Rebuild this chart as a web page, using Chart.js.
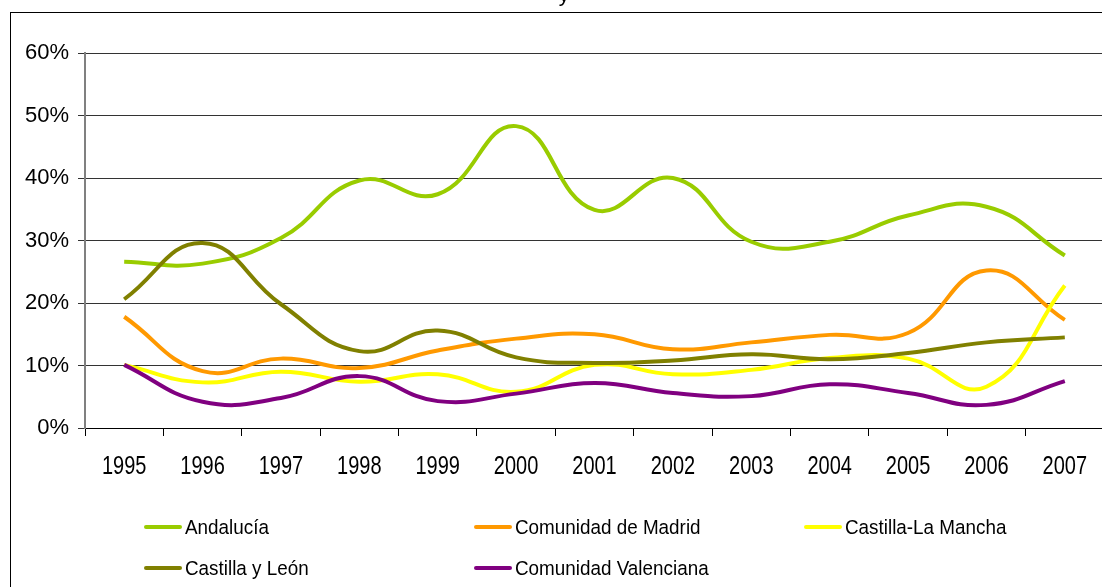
<!DOCTYPE html>
<html>
<head>
<meta charset="utf-8">
<script src="https://cdn.jsdelivr.net/npm/chart.js@4"></script>
<style>
  html, body { margin: 0; padding: 0; background: #fff; overflow: hidden; }
  body { width: 1102px; height: 587px; position: relative; }
  .frame { position: absolute; left: 10px; top: 12px; width: 1200px; height: 700px; border: 1.5px solid #000; }
  #wrap { position: absolute; left: 0; top: 0; width: 1104px; height: 587px; }
  .legend { position: absolute; left: 0; top: 0; font-family: "Liberation Sans Narrow", "Arial Narrow", "Liberation Sans", sans-serif; font-size: 20.5px; color: #000; }
  .item { position: absolute; display: flex; align-items: center; white-space: nowrap; }
  .item span.mark { display: inline-block; width: 38px; height: 4.5px; border-radius: 2px; margin-right: 3px; }
  .item span.txt { display: inline-block; transform: scaleX(0.92); transform-origin: left center; }
</style>
</head>
<body>
<div class="frame"></div>
<div id="wrap"><canvas id="chart" width="1104" height="587"></canvas></div>
<div class="legend" id="legend"></div>
<script>
const years = ['1995', '1996', '1997', '1998', '1999', '2000', '2001', '2002', '2003', '2004', '2005', '2006', '2007'];
const andalucia = [26.6, 26.3, 30.4, 39.6, 37.4, 48.3, 34.9, 40.0, 29.8, 29.8, 34.0, 35.4, 27.6];
const madrid = [17.8, 9.1, 11.1, 9.6, 12.4, 14.3, 15.0, 12.6, 13.7, 14.9, 15.2, 25.2, 17.3];
const castillaLaMancha = [10.1, 7.3, 9.0, 7.4, 8.6, 5.8, 10.1, 8.6, 9.3, 11.2, 11.1, 6.6, 22.8];
const castillaLeon = [20.6, 29.6, 19.8, 12.3, 15.6, 11.3, 10.4, 10.8, 11.8, 11.0, 12.0, 13.7, 14.5];
const valenciana = [10.1, 4.2, 4.8, 8.3, 4.3, 5.5, 7.2, 5.6, 5.1, 7.0, 5.6, 3.7, 7.5];
const yTicks = [0, 10, 20, 30, 40, 50, 60];

const series = [
  { label: 'Andalucía', data: andalucia, color: '#99CC00' },
  { label: 'Comunidad de Madrid', data: madrid, color: '#FF9900' },
  { label: 'Castilla-La Mancha', data: castillaLaMancha, color: '#FFFF00' },
  { label: 'Castilla y León', data: castillaLeon, color: '#808000' },
  { label: 'Comunidad Valenciana', data: valenciana, color: '#800080' }
];

const font = "'Liberation Sans Narrow', 'Arial Narrow', 'Liberation Sans', sans-serif";

// only the descender of the cut-off title is visible at the top
const topText = {
  id: 'topText',
  afterDraw(chart) {
    const ctx = chart.ctx;
    ctx.save();
    ctx.font = '21px ' + font;
    ctx.fillStyle = '#000';
    ctx.textAlign = 'center';
    ctx.textBaseline = 'alphabetic';
    ctx.fillText('y', 564, 2);
    ctx.restore();
  }
};

// x labels drawn condensed (narrow font look), placed by the x scale
const condensedX = {
  id: 'condensedX',
  afterDraw(chart) {
    const ctx = chart.ctx;
    const xs = chart.scales.x;
    ctx.save();
    ctx.font = '25px ' + font;
    ctx.fillStyle = '#000';
    ctx.textAlign = 'center';
    ctx.textBaseline = 'middle';
    chart.data.labels.forEach((lab, i) => {
      const px = xs.getPixelForTick(i);
      ctx.save();
      ctx.translate(px, 467);
      ctx.scale(0.8, 1);
      ctx.fillText(lab, 0, 0);
      ctx.restore();
    });
    ctx.restore();
  }
};

new Chart(document.getElementById('chart'), {
  type: 'line',
  data: {
    labels: years,
    datasets: series.map((s, i) => ({
      label: s.label,
      data: s.data,
      borderColor: s.color,
      backgroundColor: s.color,
      borderWidth: 4,
      pointRadius: 0,
      tension: 0.45,
      fill: false,
      order: series.length - i
    }))
  },
  options: {
    responsive: false,
    animation: false,
    layout: { padding: { left: 0, right: 0, top: 53, bottom: 0 } },
    plugins: {
      legend: { display: false },
      tooltip: { enabled: false },
      title: { display: false }
    },
    scales: {
      x: {
        offset: true,
        grid: {
          offset: true,
          drawOnChartArea: false,
          drawTicks: true,
          tickLength: 8,
          color: '#000'
        },
        border: { display: true, color: '#000', width: 1 },
        ticks: { display: false, autoSkip: false },
        afterFit(scale) { scale.height = 587 - 428; }
      },
      y: {
        min: 0,
        max: 60,
        afterBuildTicks(scale) { scale.ticks = yTicks.map(v => ({ value: v })); },
        grid: {
          color: '#333',
          lineWidth: 1,
          drawTicks: true,
          tickLength: 7
        },
        border: { display: true, color: '#808080', width: 2 },
        ticks: {
          font: { family: font, size: 22 },
          color: '#000',
          padding: 9,
          callback: v => v + '%'
        },
        afterFit(scale) { scale.width = 85; }
      }
    }
  },
  plugins: [topText, condensedX]
});

const legend = document.getElementById('legend');
const cols = [144, 474, 804];
const rows = [527, 568];
series.forEach((s, i) => {
  const item = document.createElement('div');
  item.className = 'item';
  item.style.left = cols[i % 3] + 'px';
  item.style.top = (rows[Math.floor(i / 3)] - 13) + 'px';
  item.style.height = '26px';
  const mark = document.createElement('span');
  mark.className = 'mark';
  mark.style.background = s.color;
  const txt = document.createElement('span');
  txt.className = 'txt';
  txt.textContent = s.label;
  item.appendChild(mark);
  item.appendChild(txt);
  legend.appendChild(item);
});
</script>
</body>
</html>
